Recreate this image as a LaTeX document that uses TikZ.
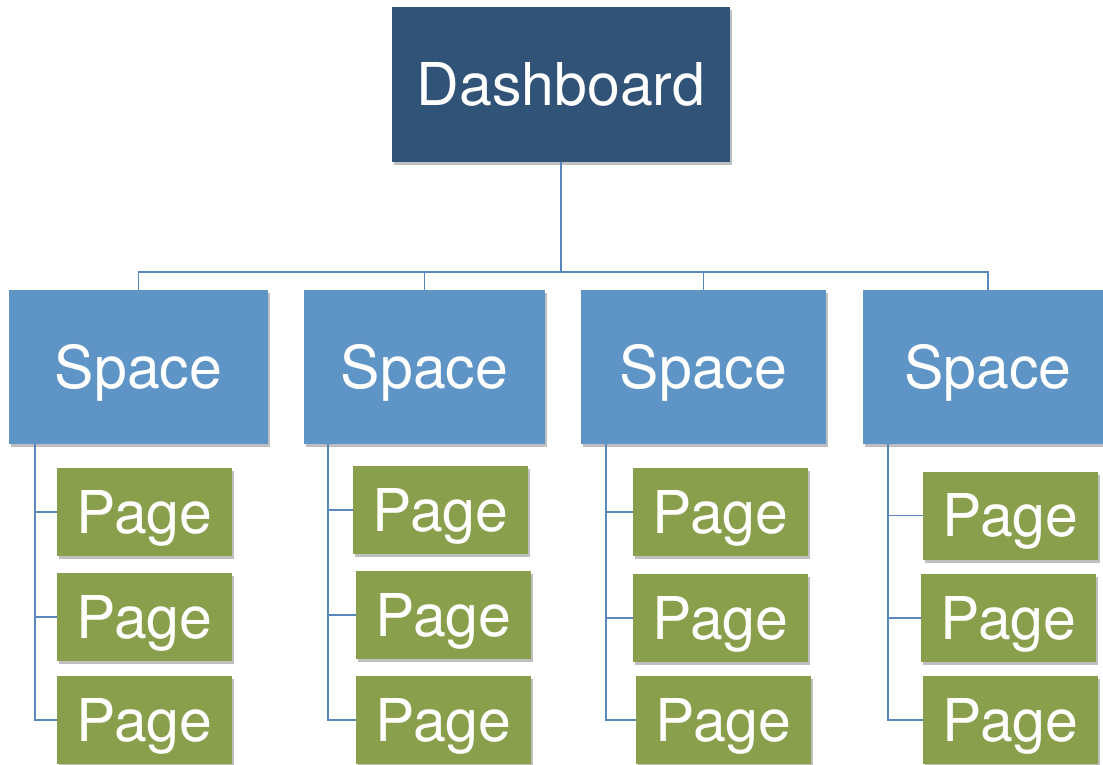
\documentclass[tikz,border=0pt]{standalone}
\usepackage{fontspec}
\setmainfont{TeX Gyre Heros}
\usetikzlibrary{shadows}
\definecolor{dashblue}{HTML}{305377}
\definecolor{spaceblue}{HTML}{5F95C6}
\definecolor{pagegreen}{HTML}{899F4B}
\definecolor{linkblue}{HTML}{5A88BE}
\tikzset{
  box/.style={rectangle, inner sep=0pt, text=white,
    font=\fontsize{59}{70}\selectfont, text height=42pt, text depth=0pt,
    drop shadow={shadow xshift=2pt, shadow yshift=-3pt, opacity=0.25, fill=black}},
  dashbox/.style={box, fill=dashblue, minimum height=155pt},
  spacebox/.style={box, fill=spaceblue, minimum height=154pt},
  pagebox/.style={box, fill=pagegreen, minimum width=175pt, minimum height=88pt},
  conn/.style={draw=linkblue, line width=1.8pt}
}
\begin{document}
\begin{tikzpicture}[x=1pt,y=1pt]
\useasboundingbox (0,0) rectangle (1103,-764);
\clip (0,0) rectangle (1103,-764);
% root
\node[dashbox, minimum width=338pt] (dash) at (561,-84.5) {Dashboard};
% spaces
\node[spacebox, minimum width=259pt] (s1) at (138.5,-367) {Space};
\node[spacebox, minimum width=241pt] (s2) at (424.5,-367) {Space};
\node[spacebox, minimum width=245pt] (s3) at (703.5,-367) {Space};
\node[spacebox, minimum width=250pt] (s4) at (988,-367) {Space};
% pages
\node[pagebox] (p11) at (144.5,-512) {Page};
\node[pagebox] (p12) at (144.5,-617) {Page};
\node[pagebox] (p13) at (144.5,-720) {Page};
\node[pagebox] (p21) at (440.5,-510) {Page};
\node[pagebox] (p22) at (443.5,-615) {Page};
\node[pagebox] (p23) at (443.5,-720) {Page};
\node[pagebox] (p31) at (720.5,-512) {Page};
\node[pagebox] (p32) at (720.5,-618) {Page};
\node[pagebox] (p33) at (723.5,-720) {Page};
\node[pagebox] (p41) at (1010.5,-515.5) {Page};
\node[pagebox] (p42) at (1008.5,-618) {Page};
\node[pagebox] (p43) at (1010.5,-720) {Page};
% top connectors
\coordinate (bus) at (561,-272);
\draw[conn] (dash.south) -- (bus);
\draw[conn] (s1.north) |- (bus) -| (s4.north);
\draw[conn] (s2.north) -- (s2.north |- bus);
\draw[conn] (s3.north) -- (s3.north |- bus);
% side connectors
\coordinate (c1) at (35,-444);
\coordinate (c2) at (328,-444);
\coordinate (c3) at (606,-444);
\coordinate (c4) at (888,-444);
\draw[conn] (c1) |- (p13.west);
\draw[conn] (p11.west) -- (p11.west -| c1);
\draw[conn] (p12.west) -- (p12.west -| c1);
\draw[conn] (c2) |- (p23.west);
\draw[conn] (p21.west) -- (p21.west -| c2);
\draw[conn] (p22.west) -- (p22.west -| c2);
\draw[conn] (c3) |- (p33.west);
\draw[conn] (p31.west) -- (p31.west -| c3);
\draw[conn] (p32.west) -- (p32.west -| c3);
\draw[conn] (c4) |- (p43.west);
\draw[conn] (p41.west) -- (p41.west -| c4);
\draw[conn] (p42.west) -- (p42.west -| c4);
\end{tikzpicture}
\end{document}
